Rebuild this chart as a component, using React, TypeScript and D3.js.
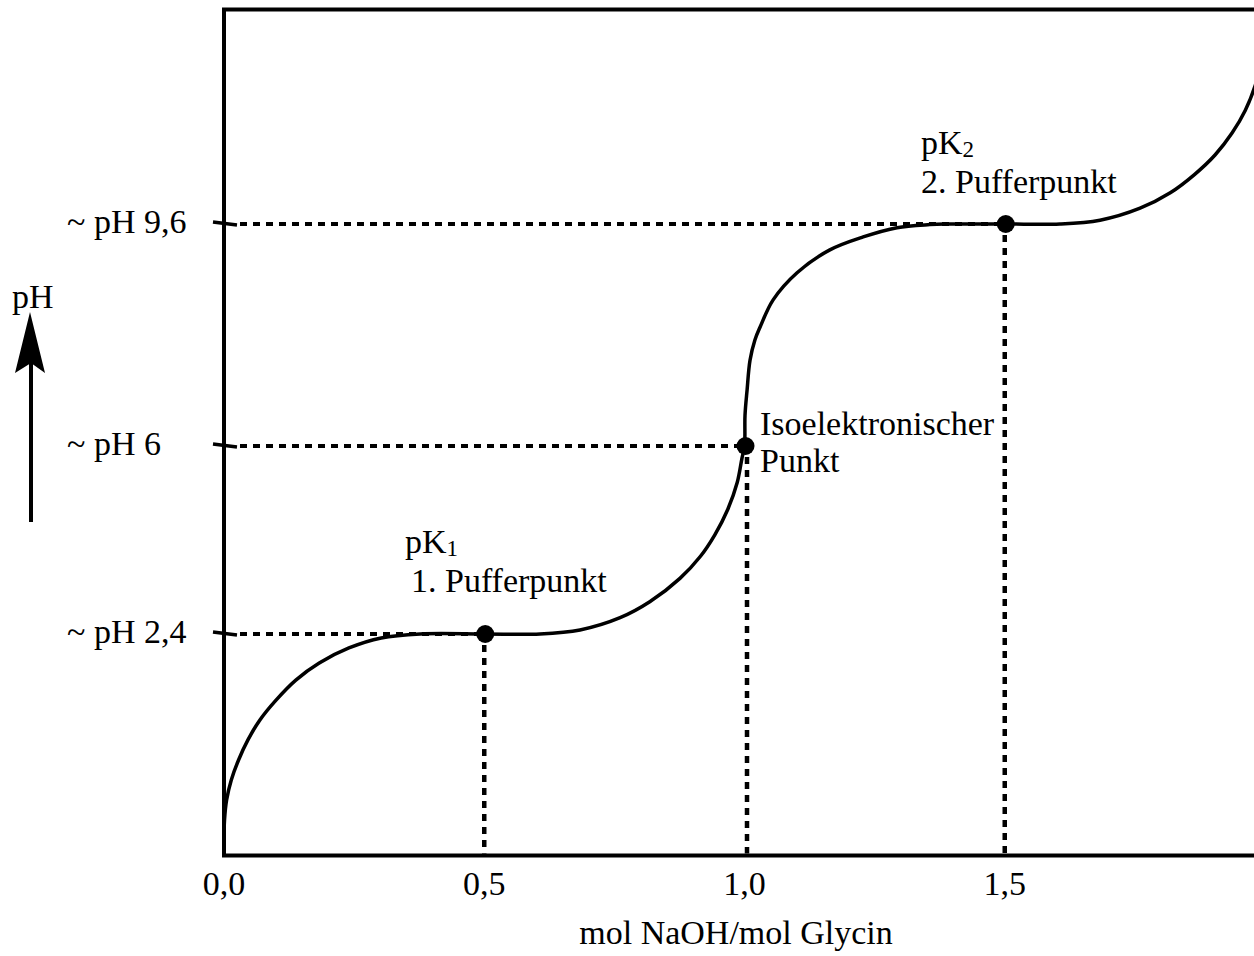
import React from "react";
import * as d3 from "d3";

// Titration curve of glycine (schematic)
const curveRatio = [
  0.0, 0.001, 0.005, 0.014, 0.028, 0.046, 0.069, 0.1, 0.138, 0.183, 0.24, 0.302, 0.377,
  0.5, 0.607,
  0.684, 0.761, 0.818, 0.876, 0.915, 0.943, 0.968, 0.986, 0.995, 1.0,
  1.001, 1.005, 1.0106, 1.02, 1.03, 1.055, 1.101, 1.164, 1.228, 1.293, 1.356, 1.385,
  1.5, 1.606,
  1.683, 1.76, 1.818, 1.865, 1.904, 1.937, 1.962, 1.981, 1.994,
];
const curvePH = [
  1.0, 1.136, 1.272, 1.408, 1.544, 1.68, 1.816, 1.951, 2.087, 2.203, 2.305, 2.373, 2.4,
  2.4, 2.4,
  2.477, 2.712, 3.017, 3.465, 3.884, 4.3, 4.79, 5.3, 5.76, 6.0,
  6.5, 6.91, 7.39, 7.72, 7.93, 8.37, 8.81, 9.18, 9.39, 9.54, 9.59, 9.6,
  9.6, 9.6,
  9.662, 9.858, 10.109, 10.41, 10.725, 11.087, 11.45, 11.853, 12.29,
];

// Marked points
const markRatio = [0.5, 1.0, 1.5];
const markPH = [2.4, 6, 9.6];

// Axis ticks
const xTickValues = [0, 0.5, 1.0, 1.5];
const xTickLabels = ["0,0", "0,5", "1,0", "1,5"];
const yTickValues = [9.6, 6, 2.4];
const yTickLabels = ["~ pH 9,6", "~ pH 6", "~ pH 2,4"];

const xTitle = "mol NaOH/mol Glycin";
const yTitle = "pH";

const W = 1254;
const H = 956;
const FONT = "'Liberation Serif', 'Times New Roman', Times, serif";
const FS = 34;

export default function App() {
  const x = d3.scaleLinear().domain([0, 2]).range([224, 1265]);
  // schematic (non-linear) pH axis
  const y = d3
    .scaleLinear()
    .domain([1, 2.4, 6, 9.6, 12.6])
    .range([840, 634, 446, 224, 40]);

  const top = 9.5;
  const bottom = 855.5;

  const pts: [number, number][] = curveRatio.map((r, i) => [r, curvePH[i]]);
  const line = d3
    .line<[number, number]>()
    .x((d) => x(d[0]))
    .y((d) => y(d[1]))
    .curve(d3.curveCatmullRom.alpha(0.5));

  const dash = "7,6";

  return (
    <svg
      width={W}
      height={H}
      style={{ position: "absolute", left: 0, top: 0, background: "#fff" }}
      fontFamily={FONT}
    >
      <rect x={0} y={0} width={W} height={H} fill="#fff" />
      {/* frame */}
      <rect
        x={x(0)}
        y={top}
        width={x(2) - x(0)}
        height={bottom - top}
        fill="none"
        stroke="#000"
        strokeWidth={4}
      />

      {/* dotted guide lines */}
      {markRatio.map((r, i) => (
        <g key={"g" + i}>
          <line
            x1={x(0) + 16}
            x2={x(r) - 6}
            y1={y(markPH[i])}
            y2={y(markPH[i])}
            stroke="#000"
            strokeWidth={4}
            strokeDasharray={dash}
          />
          <line
            x1={x(r) + (i === 1 ? 2.5 : 0)}
            x2={x(r) + (i === 1 ? 2.5 : 0)}
            y1={y(markPH[i]) + 11}
            y2={bottom - 2}
            stroke="#000"
            strokeWidth={4.5}
            strokeDasharray={dash}
          />
        </g>
      ))}

      {/* y ticks */}
      {yTickValues.map((v, i) => (
        <g key={"yt" + i}>
          <line
            x1={213}
            x2={237}
            y1={y(v) - 2}
            y2={y(v) + 1}
            stroke="#000"
            strokeWidth={3.5}
          />
          <text x={67} y={y(v) + 9} fontSize={FS} fill="#000">
            {yTickLabels[i]}
          </text>
        </g>
      ))}

      {/* x tick labels */}
      {xTickValues.map((v, i) => (
        <text
          key={"xt" + i}
          x={x(v)}
          y={895}
          fontSize={FS}
          textAnchor="middle"
          fill="#000"
        >
          {xTickLabels[i]}
        </text>
      ))}

      {/* titration curve */}
      <path d={line(pts) || ""} fill="none" stroke="#000" strokeWidth={3.5} />

      {/* points */}
      {markRatio.map((r, i) => (
        <circle key={"c" + i} cx={x(r) + 1} cy={y(markPH[i])} r={9} fill="#000" />
      ))}

      {/* annotations */}
      <text x={405} y={553} fontSize={FS} fill="#000">
        pK<tspan fontSize={23} dy={3}>1</tspan>
      </text>
      <text x={411} y={592} fontSize={FS} fill="#000">
        1. Pufferpunkt
      </text>
      <text x={921} y={154} fontSize={FS} fill="#000">
        pK<tspan fontSize={23} dy={3}>2</tspan>
      </text>
      <text x={921} y={193} fontSize={FS} fill="#000">
        2. Pufferpunkt
      </text>
      <text x={760} y={435} fontSize={FS} fill="#000">
        Isoelektronischer
      </text>
      <text x={760} y={472} fontSize={FS} fill="#000">
        Punkt
      </text>

      {/* axis titles */}
      <text x={736} y={944} fontSize={FS} textAnchor="middle" fill="#000">
        {xTitle}
      </text>
      <text x={12} y={308} fontSize={FS} fill="#000">
        {yTitle}
      </text>
      {/* pH arrow */}
      <line x1={31} x2={31} y1={522} y2={360} stroke="#000" strokeWidth={4} />
      <path d="M30,312 L45,373 L31,363 L15,373 Z" fill="#000" />
    </svg>
  );
}
